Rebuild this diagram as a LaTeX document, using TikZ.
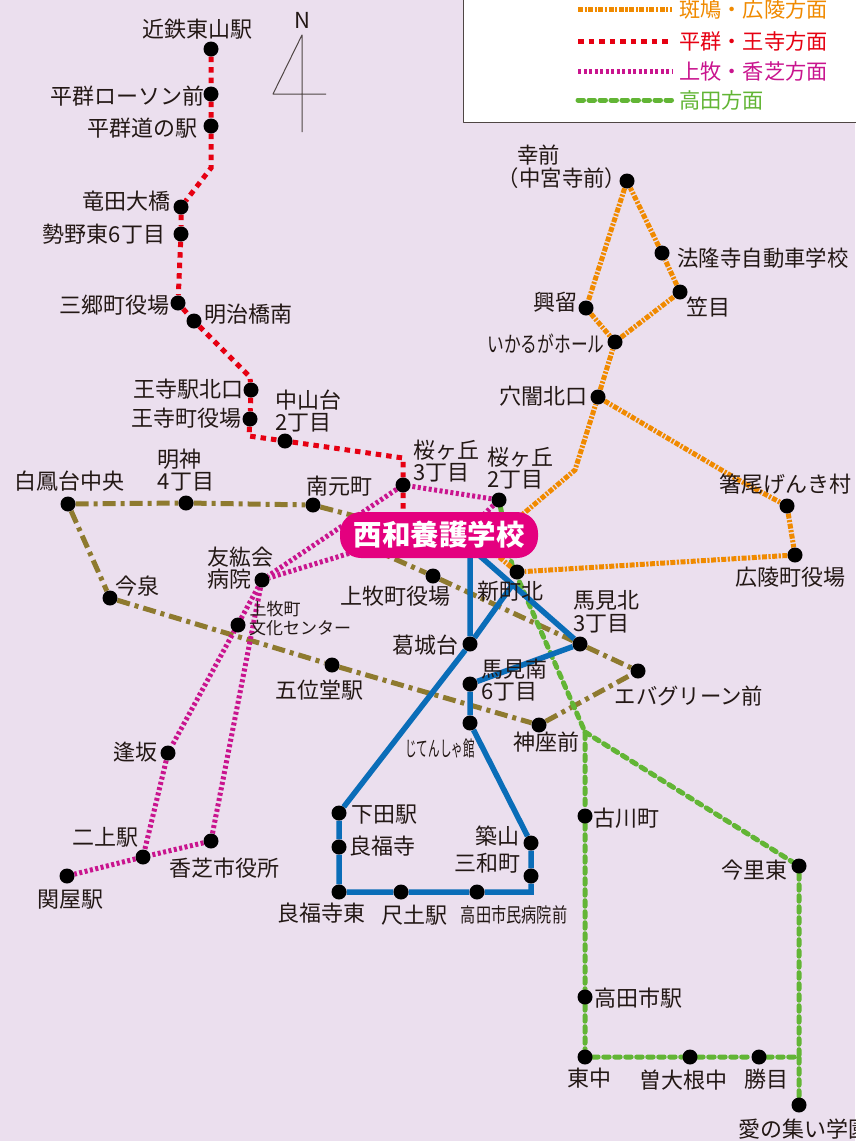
\documentclass[tikz,border=0pt]{standalone}
\usepackage{fontspec}
\setmainfont{Noto Sans CJK JP}
\usetikzlibrary{backgrounds}
\definecolor{bgc}{HTML}{EBDFEE}
\definecolor{txtc}{HTML}{231815}
\definecolor{orgc}{HTML}{F08A00}
\definecolor{redc}{HTML}{E60012}
\definecolor{magc}{HTML}{C9148E}
\definecolor{grnc}{HTML}{62B535}
\definecolor{bluc}{HTML}{0A6DB8}
\definecolor{olvc}{HTML}{8E7A2F}
\definecolor{schc}{HTML}{E4007F}
\tikzset{
	stop/.style={circle,fill=black,inner sep=0pt,minimum size=15pt},
	lbl/.style={inner sep=0pt,text=txtc,align=left,font=\fontsize{22}{22.5}\selectfont},
	smalllbl/.style={inner sep=0pt,text=txtc,font=\fontsize{17}{18}\selectfont},
	lgd/.style={anchor=west,inner xsep=7pt,inner ysep=0pt,font=\fontsize{21.2}{22.5}\selectfont},
	orgline/.style={orgc,line width=5pt,dash pattern=on 5pt off 1.5pt on 2.2pt off 1.5pt},
	redline/.style={redc,line width=5pt,dash pattern=on 5.5pt off 5pt},
	magline/.style={magc,line width=5pt,dash pattern=on 3pt off 2.5pt},
	grnline/.style={grnc,line width=5pt,line cap=round,dash pattern=on 5.5pt off 5.5pt},
	bluline/.style={bluc,line width=5.5pt},
	olvline/.style={olvc,line width=5pt,dash pattern=on 13pt off 5pt on 4pt off 5pt}
}
\begin{document}
\begin{tikzpicture}[x=1pt,y=-1pt,line join=round]
	\useasboundingbox (0,0) rectangle (855,1141);
	\foreach \n/\x/\y in {kintetsu/211/49,roson/211/94,michi/211/126,tatsuta/181/207,seya/181/234,
		sango/178/303,meiji/194/321,ojieki/251/390,ojimachi/250/419,nakayama/285/441,
		sakurac/403/485,sakurab/499/500,minamimoto/313/505,myojin/186/503,hakuho/68/504,
		imaizumi/110/598,yushokai/262/580,bunka/238/625,kanmaki/433/576,shinmachi/517/572,
		umamikita/580/644,katsuragi/470/644,umaminami/470/684,godo/332/665,eva/638/671,
		jinza/539/725,jiten/470/723,aisaka/168/753,futakami/143/857,kashiba/211/841,sekiya/67/876,
		shimoda/339/813,ryofuku/339/847,tsukiyama/531/843,sanwa/531/876,ryofukue/339/892,
		shakudo/401/892,byoin/477/892,furukawa/585/816,imazato/799/866,takada/585/997,
		higashi/585/1057,sobune/690/1057,katsume/759/1057,aino/799/1105,saizen/627/181,
		horyu/662/253,kasa/680/292,koryu/586/308,ikaruga/615/342,anaguri/598/397,
		hashio/787/506,koryo/795/555}
		\node[stop] (\n) at (\x,\y) {};
	\node[fill=schc,text=white,rounded corners=21pt,minimum width=198pt,minimum height=46pt,inner sep=0pt,
		font=\fontsize{28.5}{29}\selectfont\bfseries] (school) at (439,535) {西和養護学校};
	\coordinate (redbenda) at (211,168);
	\coordinate (redbendb) at (250,377);
	\coordinate (redbendc) at (249,436);
	\coordinate (redbendd) at (403,458);
	\coordinate (redend) at (403,525);
	\coordinate (magenda) at (370,547);
	\coordinate (magendb) at (478,520);
	\coordinate (olvenda) at (370,520);
	\coordinate (olvendb) at (370,548);
	\coordinate (bluenda) at (470,540);
	\coordinate (bluendb) at (456,535);
	\coordinate (blujoin) at (513,584);
	\coordinate (blucorner) at (531,892);
	\coordinate (grnbenda) at (512,565);
	\coordinate (grnbendb) at (585,732);
	\coordinate (grnjoin) at (799,1057);
	\coordinate (orgbend) at (575,470);
	\coordinate (orgenda) at (510,525);
	\coordinate (orgendb) at (485,545);
	\coordinate (orgbendb) at (735,478);
	\begin{scope}[on background layer]
		\fill[bgc] (0,0) rectangle (855,1141);
		\draw[olvline] (hakuho)--(myojin)--(minamimoto)--(olvenda);
		\draw[olvline] (hakuho)--(imaizumi)--(godo)--(jinza)--(eva);
		\draw[olvline] (olvendb)--(kanmaki)--(umamikita)--(eva);
		\draw[redline] (kintetsu)--(roson)--(michi)--(redbenda)--(tatsuta)--(seya)--(sango)--(meiji)--(redbendb)--(ojieki)--(ojimachi)--(redbendc)--(nakayama)--(redbendd)--(sakurac)--(redend);
		\draw[magline] (sakurab)--(sakurac)--(yushokai)--(aisaka)--(futakami)--(sekiya);
		\draw[magline] (sakurab)--(magendb);
		\draw[magline] (magenda)--(yushokai)--(kashiba)--(futakami);
		\draw[grnline] (sakurab)--(grnbenda)--(grnbendb)--(furukawa)--(takada)--(higashi)--(sobune)--(katsume)--(grnjoin)--(aino);
		\draw[grnline] (grnbendb)--(imazato)--(grnjoin);
		\draw[orgline] (koryo)--(shinmachi)--(orgendb);
		\draw[orgline] (orgenda)--(orgbend)--(anaguri)--(ikaruga)--(kasa)--(horyu)--(saizen)--(koryu)--(ikaruga);
		\draw[orgline] (anaguri)--(orgbendb)--(hashio)--(koryo);
		\draw[bluline] (bluenda)--(katsuragi)--(blujoin);
		\draw[bluline] (bluendb)--(umamikita)--(umaminami)--(jiten)--(tsukiyama)--(sanwa)--(blucorner)--(byoin)--(shakudo)--(ryofukue)--(ryofuku)--(shimoda)--(katsuragi);
	\end{scope}
	\node[lbl] (kintetsu_l) at (197,29) {近鉄東山駅};
	\node[lbl] (roson_l) at (127,96) {平群ローソン前};
	\node[lbl] (michi_l) at (142,128) {平群道の駅};
	\node[lbl] (tatsuta_l) at (126,201) {竜田大橋};
	\node[lbl] (seya_l) at (104,234) {勢野東6丁目};
	\node[lbl] (sango_l) at (114,305) {三郷町役場};
	\node[lbl] (meiji_l) at (248,314) {明治橋南};
	\node[lbl] (ojieki_l) at (188,389) {王寺駅北口};
	\node[lbl] (ojimachi_l) at (186,418) {王寺町役場};
	\node[lbl] (nakayama_l) at (308,411) {中山台\\2丁目};
	\node[lbl] (sakurac_l) at (446,461) {桜ヶ丘\\3丁目};
	\node[lbl] (sakurab_l) at (520,468) {桜ヶ丘\\2丁目};
	\node[lbl] (minamimoto_l) at (339,486) {南元町};
	\node[lbl] (myojin_l) at (186,470) {明神\\4丁目};
	\node[lbl] (hakuho_l) at (69,481) {白鳳台中央};
	\node[lbl] (imaizumi_l) at (137,586) {今泉};
	\node[lbl] (yushokai_l) at (240,568) {友紘会\\病院};
	\node[smalllbl] (bunkaa_l) at (275,609) {上牧町};
	\node[smalllbl] (bunkab_l) at (300,628) {文化センター};
	\node[lbl] (kanmaki_l) at (395,596) {上牧町役場};
	\node[lbl] (shinmachi_l) at (510,591) {新町北};
	\node[lbl] (umamikita_l) at (606,612) {馬見北\\3丁目};
	\node[lbl] (katsuragi_l) at (425,645) {葛城台};
	\node[lbl] (umaminami_l) at (514,680) {馬見南\\6丁目};
	\node[lbl] (godo_l) at (319,690) {五位堂駅};
	\node[lbl,xscale=0.97] (eva_l) at (689,696) {エバグリーン前};
	\node[lbl] (jinza_l) at (546,742) {神座前};
	\node[inner sep=0pt,text=txtc,xscale=0.55,font=\fontsize{21}{22}\selectfont] (jiten_l) at (440,748) {じてんしゃ館};
	\node[lbl] (aisaka_l) at (135,752) {逢坂};
	\node[lbl] (futakami_l) at (105,837) {二上駅};
	\node[lbl] (kashiba_l) at (224,868) {香芝市役所};
	\node[lbl] (sekiya_l) at (70,900) {関屋駅};
	\node[lbl] (shimoda_l) at (384,815) {下田駅};
	\node[lbl] (ryofuku_l) at (382,846) {良福寺};
	\node[lbl] (tsukiyama_l) at (497,836) {築山};
	\node[lbl] (sanwa_l) at (487,863) {三和町};
	\node[lbl] (ryofukue_l) at (321,913) {良福寺東};
	\node[lbl] (shakudo_l) at (414,915) {尺土駅};
	\node[smalllbl,xscale=0.76,font=\fontsize{20}{21}\selectfont] (byoin_l) at (514,915) {高田市民病院前};
	\node[lbl] (furukawa_l) at (626,818) {古川町};
	\node[lbl] (imazato_l) at (754,870) {今里東};
	\node[lbl] (takada_l) at (638,998) {高田市駅};
	\node[lbl] (higashi_l) at (589,1078) {東中};
	\node[lbl] (sobune_l) at (683,1080) {曽大根中};
	\node[lbl] (katsume_l) at (766,1079) {勝目};
	\node[lbl,anchor=west] (aino_l) at (738,1129) {愛の集い学園};
	\node[lbl,xscale=0.97] (saizen_l) at (562,167) {\hspace*{20pt}幸前\\（中宮寺前）};
	\node[lbl,xscale=0.97] (horyu_l) at (763,258) {法隆寺自動車学校};
	\node[lbl] (kasa_l) at (708,307) {笠目};
	\node[lbl] (koryu_l) at (555,302) {興留};
	\node[lbl,xscale=0.76] (ikaruga_l) at (546,344) {いかるがホール};
	\node[lbl] (anaguri_l) at (543,396) {穴闇北口};
	\node[lbl] (hashio_l) at (785,484) {箸尾げんき村};
	\node[lbl] (koryo_l) at (790,577) {広陵町役場};
	\node[lbl] (north) at (302,20) {N};
	\coordinate (ntop) at (302,35);
	\coordinate (nleft) at (273,94);
	\coordinate (nright) at (326,94);
	\coordinate (nbottom) at (302,132);
	\draw[line width=1pt,txtc!80] (nbottom)--(ntop)--(nleft)--(nright);
	\draw[fill=white,draw=txtc!80,line width=1pt] (463,-3) rectangle (858,122);
	\node[lgd,text=orgc] (lgorg) at (672,9) {斑鳩・広陵方面};
	\node[lgd,text=redc] (lgred) at (672,41) {平群・王寺方面};
	\node[lgd,text=magc] (lgmag) at (672,71) {上牧・香芝方面};
	\node[lgd,text=grnc] (lggrn) at (672,100) {高田方面};
	\coordinate (lsorg) at (578,9);
	\coordinate (lsred) at (578,41);
	\coordinate (lsmag) at (578,71);
	\coordinate (lsgrn) at (578,100);
	\draw[orgline] (lsorg)--(lgorg);
	\draw[redline] (lsred)--(lgred);
	\draw[magline] (lsmag)--(lgmag);
	\draw[grnline] (lsgrn)--(lggrn);
\end{tikzpicture}
\end{document}
